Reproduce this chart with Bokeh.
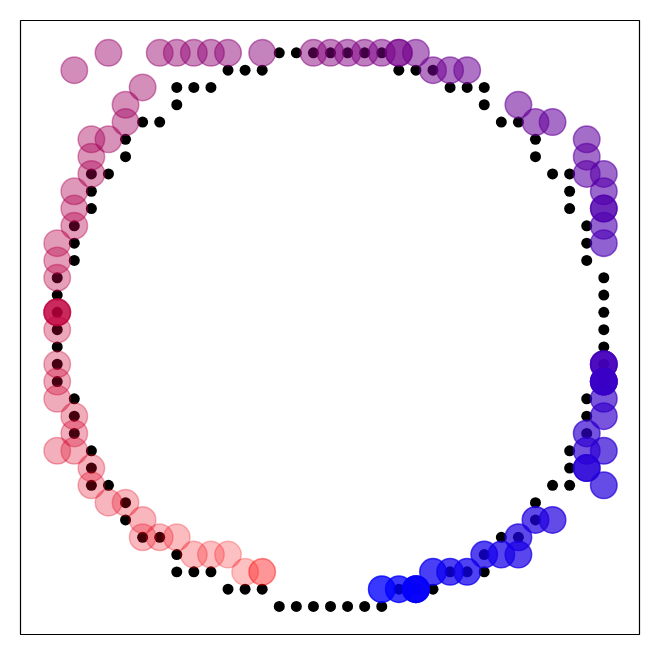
from bokeh.plotting import figure
from bokeh.models import ColumnDataSource, Range1d
from bokeh.embed import file_html
from bokeh.resources import INLINE

# Black grid-circle points (radius 16 rasterised circle)
grid_x = [16, 16, 16, 16, 15, 15, 15, 14, 14, 14, 13, 12, 12, 11, 10, 9, 9, 8, 7, 6, 5, 4, 3, 2, 1, 0,
          -1, -2, -3, -4, -5, -6, -7, -8, -9, -9, -10, -11, -12, -12, -13, -14, -14, -14, -15, -15, -15, -16, -16, -16, -16,
          -16, -16, -16, -15, -15, -15, -14, -14, -14, -13, -12, -12, -11, -10, -9, -9, -8, -7, -6, -5, -4, -3, -2, -1, 0,
          1, 2, 3, 4, 5, 6, 7, 8, 9, 9, 10, 11, 12, 12, 13, 14, 14, 14, 15, 15, 15, 16, 16, 16]
grid_y = [0, 1, 2, 3, 4, 5, 6, 7, 8, 9, 9, 10, 11, 12, 12, 13, 14, 14, 14, 15, 15, 15, 16, 16, 16, 16,
          16, 16, 16, 15, 15, 15, 14, 14, 14, 13, 12, 12, 11, 10, 9, 9, 8, 7, 6, 5, 4, 3, 2, 1, 0,
          -1, -2, -3, -4, -5, -6, -7, -8, -9, -9, -10, -11, -12, -12, -13, -14, -14, -14, -15, -15, -15, -16, -16, -16, -16,
          -16, -16, -16, -15, -15, -15, -14, -14, -14, -13, -12, -12, -11, -10, -9, -9, -8, -7, -6, -5, -4, -3, -2, -1]

# Noisy coloured points, in sequence order (red -> blue)
pts_x = [-4, -4, -5, -6, -7, -8, -9, -10, -11, -11, -12, -13, -14, -14, -15, -16, -15, -15, -16, -16, -16, -16,
         -16, -16, -16, -16, -16, -16, -16, -15, -15, -15, -14, -14, -14, -13, -12, -12, -11, -15, -13,
         -10, -9, -8, -7, -6, -4, -1, 0, 1, 2, 3, 4, 4, 5, 6, 7, 8, 11, 12, 13, 15, 15, 15, 16, 16, 16, 16,
         16, 16, 16, 16, 16, 16, 16, 16, 16, 16, 16, 15, 15, 16, 15, 15, 16, 13, 12, 11, 11, 10, 9, 8, 7, 6,
         5, 5, 5, 4, 3]
pts_y = [-14, -14, -14, -13, -13, -13, -12, -12, -12, -11, -10, -10, -9, -8, -7, -7, -6, -5, -4, -3, -2, 0,
         1, 1, 1, 1, 3, 4, 5, 6, 7, 8, 9, 10, 11, 11, 12, 13, 14, 15, 16,
         16, 16, 16, 16, 16, 16, 16, 16, 16, 16, 16, 16, 16, 16, 15, 15, 15, 13, 12, 12, 11, 10, 9, 9, 8, 7, 7,
         6, 5, -2, -2, -2, -3, -3, -3, -3, -4, -5, -6, -7, -7, -8, -8, -9, -11, -11, -12, -13, -13, -13, -14, -14, -14,
         -15, -15, -15, -15, -15]

n = len(pts_x)
colors = []
alphas = []
for k in range(n):
    t = k / (n - 1)
    r = int(round(255 * (1 - t)))
    b = int(round(255 * t))
    colors.append("#%02x%02x%02x" % (r, 0, b))
    alphas.append(0.23 + 0.55 * t)

src = ColumnDataSource(dict(x=pts_x, y=pts_y, c=colors, a=alphas))

p = figure(width=651, height=646, output_backend="svg", toolbar_location=None,
           x_range=Range1d(-18.15, 18.09), y_range=Range1d(-17.62, 17.87),
           min_border_left=20, min_border_right=12, min_border_top=20, min_border_bottom=12)
p.xaxis.visible = False
p.yaxis.visible = False
p.xgrid.visible = False
p.ygrid.visible = False
p.outline_line_color = "black"
p.outline_line_width = 1.2
p.background_fill_color = "white"
p.border_fill_color = "white"

p.scatter(grid_x, grid_y, size=11, fill_color="black", line_color=None)
p.scatter("x", "y", source=src, size=26.5, fill_color="c", fill_alpha="a",
          line_color="c", line_alpha="a", line_width=1.5)

open("out.html", "w").write(file_html(p, INLINE))
